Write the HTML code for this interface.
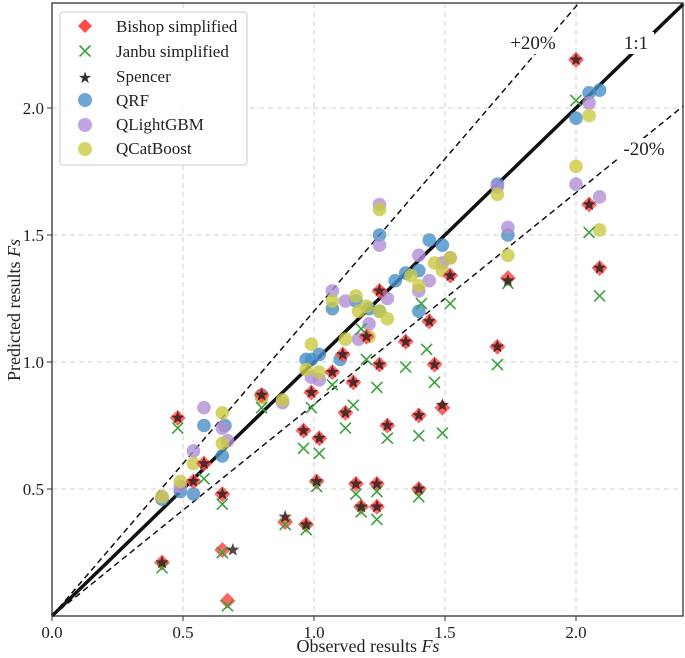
<!DOCTYPE html>
<html><head><meta charset="utf-8"><style>
body{margin:0;background:#fff}
svg{display:block;font-family:"Liberation Serif",serif}
</style></head><body>
<svg id="chart" width="685" height="658"></svg>
<script>
const bishopX=[0.48,0.42,0.54,0.58,0.65,0.65,0.67,0.80,0.89,0.97,0.96,1.02,1.01,0.99,1.07,1.11,1.15,1.12,1.16,1.18,1.24,1.24,1.28,1.25,1.20,1.35,1.40,1.40,1.25,1.44,1.46,1.52,1.49,1.70,1.74,2.00,2.05,2.09];
const bishopY=[0.78,0.21,0.53,0.60,0.48,0.26,0.06,0.87,0.37,0.36,0.73,0.70,0.53,0.88,0.96,1.03,0.92,0.80,0.52,0.43,0.52,0.43,0.75,0.99,1.10,1.08,0.79,0.50,1.28,1.16,0.99,1.34,0.82,1.06,1.33,2.19,1.62,1.37];
const spencerX=[0.48,0.42,0.54,0.58,0.65,0.69,0.80,0.89,0.97,0.96,1.02,1.01,0.99,1.07,1.11,1.15,1.12,1.16,1.18,1.24,1.24,1.28,1.25,1.20,1.35,1.40,1.40,1.25,1.44,1.46,1.52,1.49,1.70,1.74,2.00,2.05,2.09];
const spencerY=[0.78,0.21,0.53,0.60,0.48,0.26,0.87,0.39,0.36,0.73,0.70,0.53,0.88,0.96,1.03,0.92,0.80,0.52,0.43,0.52,0.43,0.75,0.99,1.10,1.08,0.79,0.50,1.28,1.16,0.99,1.34,0.83,1.06,1.32,2.19,1.62,1.37];
const janbuX=[0.48,0.42,0.58,0.65,0.65,0.67,0.80,0.89,0.97,0.96,1.02,1.01,0.99,1.07,1.12,1.15,1.16,1.18,1.24,1.24,1.28,1.24,1.20,1.35,1.40,1.40,1.43,1.46,1.49,1.52,1.70,1.18,1.41,1.74,2.00,2.05,2.09];
const janbuY=[0.74,0.19,0.54,0.44,0.25,0.04,0.82,0.36,0.34,0.66,0.64,0.51,0.82,0.91,0.74,0.83,0.48,0.41,0.49,0.38,0.70,0.90,1.01,0.98,0.71,0.47,1.05,0.92,0.72,1.23,0.99,1.13,1.23,1.31,2.03,1.51,1.26];
const qrfX=[0.42,0.49,0.54,0.65,0.66,0.58,0.80,0.97,0.99,1.02,1.10,1.07,1.16,1.21,1.25,1.25,1.31,1.35,1.40,1.40,1.44,1.49,1.70,1.74,2.05,2.09,2.00];
const qrfY=[0.46,0.49,0.48,0.63,0.75,0.75,0.87,1.01,1.01,1.03,1.01,1.21,1.24,1.21,1.50,1.20,1.32,1.35,1.36,1.20,1.48,1.46,1.70,1.50,2.06,2.07,1.96];
const qlgX=[0.42,0.49,0.54,0.58,0.65,0.67,0.80,0.88,0.99,1.02,1.07,1.12,1.17,1.21,1.25,1.25,1.28,1.40,1.40,1.44,1.49,1.52,1.70,1.74,2.05,2.00,2.09];
const qlgY=[0.47,0.51,0.65,0.82,0.74,0.69,0.86,0.84,0.94,0.93,1.28,1.24,1.09,1.15,1.46,1.62,1.25,1.42,1.28,1.32,1.39,1.41,1.69,1.53,2.02,1.70,1.65];
const qcbX=[0.42,0.49,0.54,0.65,0.65,0.80,0.88,0.97,0.99,1.02,1.12,1.07,1.16,1.17,1.20,1.21,1.25,1.25,1.28,1.37,1.40,1.46,1.49,1.52,1.70,1.74,2.05,2.00,2.09];
const qcbY=[0.47,0.53,0.60,0.80,0.68,0.86,0.85,0.97,1.07,0.96,1.09,1.24,1.26,1.20,1.22,1.10,1.60,1.20,1.17,1.34,1.30,1.39,1.36,1.41,1.66,1.42,1.97,1.77,1.52];
const xTicks=[0,0.5,1.0,1.5,2.0];
const xTickLabels=["0.0","0.5","1.0","1.5","2.0"];
const yTicks=[0.5,1.0,1.5,2.0];
const yTickLabels=["0.5","1.0","1.5","2.0"];

const L=52,R=683,T=3,B=616;
const sx=v=>L+v*262, sy=v=>B-v*254;
const NS="http://www.w3.org/2000/svg";
const svg=document.getElementById('chart');
function mk(tag,attrs,parent){const e=document.createElementNS(NS,tag);for(const k in attrs)e.setAttribute(k,attrs[k]);(parent||svg).appendChild(e);return e;}

const grid=mk('g',{});


xTicks.slice(1).forEach(v=>mk('line',{x1:sx(v),x2:sx(v),y1:T,y2:B,stroke:'#d0d0d0','stroke-dasharray':'5,4','stroke-width':1},grid));
yTicks.forEach(v=>mk('line',{x1:L,x2:R,y1:sy(v),y2:sy(v),stroke:'#d0d0d0','stroke-dasharray':'5,4','stroke-width':1},grid));

const clipMax=2.41;
const l1=mk('line',{x1:sx(0),y1:sy(0),x2:sx(clipMax),y2:sy(clipMax),stroke:'#111','stroke-width':3.5});


const lp=mk('line',{x1:sx(0),y1:sy(0),x2:sx(clipMax/1.2),y2:sy(clipMax),stroke:'#111','stroke-width':1.5,'stroke-dasharray':'6,4'});


const lm=mk('line',{x1:sx(0),y1:sy(0),x2:sx(clipMax),y2:sy(clipMax/1.2),stroke:'#111','stroke-width':1.5,'stroke-dasharray':'6,4'});



function lbl(x,y,w,t,name){
  const r=mk('rect',{x:x-w/2,y:y-14,width:w,height:22,fill:'#fff'});
  
  
  const tx=mk('text',{x:x,y:y+3,'text-anchor':'middle','font-size':19,fill:'#222'});
  tx.textContent=t;
  
  
}
lbl(533,46,50,'+20%','plus-20-label');
lbl(636,46,36,'1:1','one-to-one-label');
lbl(644,152,50,'-20%','minus-20-label');

function circles(xs,ys,color,name){
  const g=mk('g',{});
  
  
  xs.forEach((x,i)=>{const c=mk('circle',{cx:sx(x),cy:sy(ys[i]),r:6.8,fill:color,'fill-opacity':0.8},g);
    
    });
}
function diamonds(xs,ys,color,name){
  const g=mk('g',{});
  
  
  xs.forEach((x,i)=>{const X=sx(x),Y=sy(ys[i]);const p=mk('polygon',{points:`${X},${Y-8} ${X+8},${Y} ${X},${Y+8} ${X-8},${Y}`,fill:color,'fill-opacity':0.85},g);
    
    });
}
function crosses(xs,ys,color,name){
  const g=mk('g',{});
  
  
  xs.forEach((x,i)=>{const X=sx(x),Y=sy(ys[i]);const p=mk('path',{d:`M${X-5.5},${Y-5.5}L${X+5.5},${Y+5.5}M${X-5.5},${Y+5.5}L${X+5.5},${Y-5.5}`,stroke:color,'stroke-width':1.6,fill:'none'},g);
    
    });
}
function starPts(X,Y,r){let s=[];for(let k=0;k<10;k++){const a=-Math.PI/2+k*Math.PI/5;const rr=k%2?r*0.42:r;s.push((X+rr*Math.cos(a)).toFixed(1)+','+(Y+rr*Math.sin(a)).toFixed(1));}return s.join(' ');}
function stars(xs,ys,color,name){
  const g=mk('g',{});
  
  
  xs.forEach((x,i)=>{const p=mk('polygon',{points:starPts(sx(x),sy(ys[i]),7),fill:color,'fill-opacity':0.8},g);
    
    });
}
circles(qrfX,qrfY,'#4a90c8','qrf');
circles(qlgX,qlgY,'#b08fd6','qlightgbm');
circles(qcbX,qcbY,'#c9c943','qcatboost');
diamonds(bishopX,bishopY,'#ff4a4a','bishop');
crosses(janbuX,janbuY,'#3aa33a','janbu');
stars(spencerX,spencerY,'#2a1a1a','spencer');

const fr=mk('rect',{x:L,y:T,width:R-L,height:B-T,fill:'none',stroke:'#333','stroke-width':1.3});


xTicks.forEach((v,i)=>{mk('line',{x1:sx(v),x2:sx(v),y1:B,y2:B+5,stroke:'#333'});
  const t=mk('text',{x:sx(v),y:B+22,'text-anchor':'middle','font-size':17,fill:'#222'});t.textContent=xTickLabels[i];
  
  });
yTicks.forEach((v,i)=>{mk('line',{x1:L-5,x2:L,y1:sy(v),y2:sy(v),stroke:'#333'});
  const t=mk('text',{x:L-8,y:sy(v)+6,'text-anchor':'end','font-size':17,fill:'#222'});t.textContent=yTickLabels[i];
  
  });
</script>
<svg style="position:absolute;left:0;top:0" width="685" height="658">
<text x="368" y="652" text-anchor="middle" font-size="18" fill="#222" font-family="Liberation Serif, serif">Observed results  <tspan font-style="italic">Fs</tspan></text>
<text transform="translate(20,310) rotate(-90)" text-anchor="middle" font-size="18" fill="#222" font-family="Liberation Serif, serif">Predicted results  <tspan font-style="italic">Fs</tspan></text>
<g font-family="Liberation Serif, serif" font-size="17" fill="#222">
<rect x="60" y="12" width="187" height="153" rx="3" fill="#fff" fill-opacity="0.9" stroke="#ccc"/>
<polygon points="85,19 92,26 85,33 78,26" fill="#ff4a4a"/>
<text x="116" y="32">Bishop simplified</text>
<path d="M79.5,45.5L90.5,56.5M79.5,56.5L90.5,45.5" stroke="#3aa33a" stroke-width="1.6"/>
<text x="116" y="57">Janbu simplified</text>
<text x="85" y="83" text-anchor="middle" font-size="16" fill="#333">★</text>
<text x="116" y="82">Spencer</text>
<circle cx="85" cy="100" r="7" fill="#4a90c8" fill-opacity="0.8"/>
<text x="116" y="106">QRF</text>
<circle cx="85" cy="125" r="7" fill="#b08fd6" fill-opacity="0.8"/>
<text x="116" y="130">QLightGBM</text>
<circle cx="85" cy="149" r="7" fill="#c9c943" fill-opacity="0.8"/>
<text x="116" y="154">QCatBoost</text>
</g>
</svg>
</body></html>
